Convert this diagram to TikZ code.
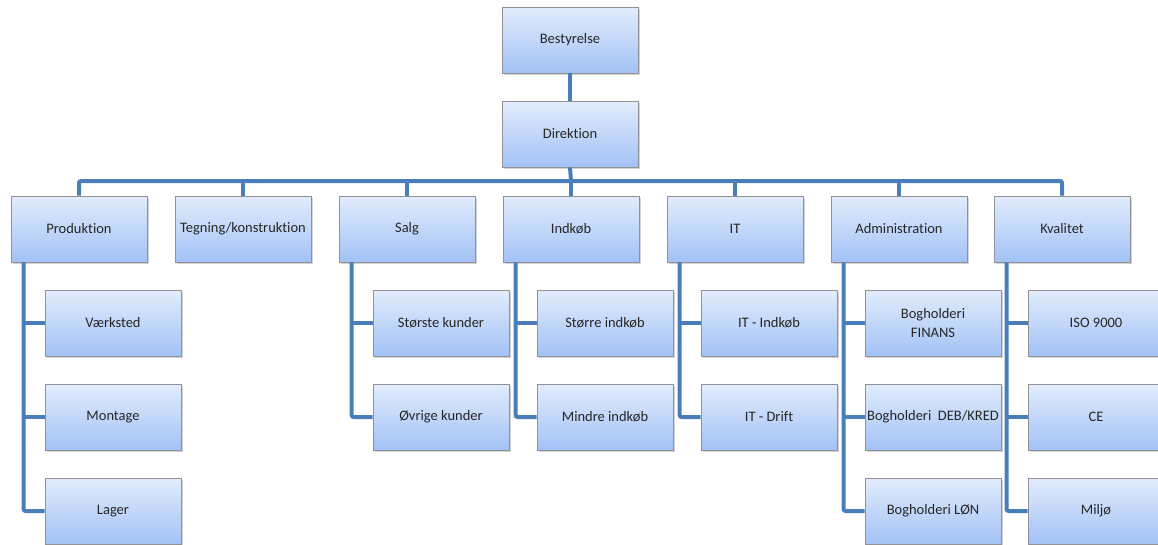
\documentclass[tikz,border=0pt]{standalone}
\usepackage{fontspec}
\setmainfont{Carlito}[Ligatures=NoCommon]
\usetikzlibrary{shadows}
\definecolor{linec}{RGB}{74,126,187}
\definecolor{boxtop}{RGB}{226,236,252}
\definecolor{boxbot}{RGB}{162,194,246}
\definecolor{boxedge}{RGB}{145,145,150}
\tikzset{
  orgbox/.style={draw=boxedge, line width=0.8pt, top color=boxtop, bottom color=boxbot,
    minimum width=136pt, minimum height=66pt, inner sep=2pt, align=center,
    font=\fontsize{14.5}{19}\selectfont, text=black!85,
    drop shadow={shadow xshift=1.5pt, shadow yshift=-1.5pt, opacity=0.35}},
  conn/.style={draw=linec, line width=4pt, rounded corners=2pt}
}
\begin{document}
\begin{tikzpicture}[x=1pt,y=-1pt]
\useasboundingbox (0,0) rectangle (1158,544);
\clip (0,0) rectangle (1158,544);
\coordinate (bus) at (571,181);
\node[orgbox] (best) at (570,40) {Bestyrelse};
\node[orgbox] (dir) at (570,134) {Direktion};
\node[orgbox] (prod) at (79,229) {Produktion};
\node[orgbox] (teg) at (243,229) {Tegning/konstruktion};
\node[orgbox] (salg) at (407,229) {Salg};
\node[orgbox] (indk) at (571,229) {Indkøb};
\node[orgbox] (it) at (735,229) {IT};
\node[orgbox] (adm) at (899,229) {Administration};
\node[orgbox] (kval) at (1062,229) {Kvalitet};
\node[orgbox] (vaerk) at (113,323) {Værksted};
\node[orgbox] (mont) at (113,417) {Montage};
\node[orgbox] (lager) at (113,511) {Lager};
\node[orgbox] (stk) at (441,323) {Største kunder};
\node[orgbox] (ovk) at (441,417) {Øvrige kunder};
\node[orgbox] (sti) at (605,323) {Større indkøb};
\node[orgbox] (mii) at (605,417) {Mindre indkøb};
\node[orgbox] (iti) at (769,323) {IT - Indkøb};
\node[orgbox] (itd) at (769,417) {IT - Drift};
\node[orgbox] (bfin) at (933,323) {Bogholderi\\FINANS};
\node[orgbox] (bdeb) at (933,417) {Bogholderi\ \ DEB/KRED};
\node[orgbox] (blon) at (933,511) {Bogholderi LØN};
\node[orgbox] (iso) at (1096,323) {ISO 9000};
\node[orgbox] (ce) at (1096,417) {CE};
\node[orgbox] (milj) at (1096,511) {Miljø};
\draw[conn] (best.south) -- (dir.north);
\draw[conn] (dir.south) -- (bus);
\draw[conn] (prod.north) |- (bus) -| (kval.north);
\draw[conn] (teg.north) -- (teg.north |- bus);
\draw[conn] (salg.north) -- (salg.north |- bus);
\draw[conn] (indk.north) -- (indk.north |- bus);
\draw[conn] (it.north) -- (it.north |- bus);
\draw[conn] (adm.north) -- (adm.north |- bus);
\draw[conn] ([xshift=13pt]prod.south west) |- (lager.west);
\draw[conn] ([xshift=13pt]prod.south west |- vaerk.west) -- (vaerk.west);
\draw[conn] ([xshift=13pt]prod.south west |- mont.west) -- (mont.west);
\draw[conn] ([xshift=13pt]salg.south west) |- (ovk.west);
\draw[conn] ([xshift=13pt]salg.south west |- stk.west) -- (stk.west);
\draw[conn] ([xshift=13pt]indk.south west) |- (mii.west);
\draw[conn] ([xshift=13pt]indk.south west |- sti.west) -- (sti.west);
\draw[conn] ([xshift=13pt]it.south west) |- (itd.west);
\draw[conn] ([xshift=13pt]it.south west |- iti.west) -- (iti.west);
\draw[conn] ([xshift=13pt]adm.south west) |- (blon.west);
\draw[conn] ([xshift=13pt]adm.south west |- bfin.west) -- (bfin.west);
\draw[conn] ([xshift=13pt]adm.south west |- bdeb.west) -- (bdeb.west);
\draw[conn] ([xshift=13pt]kval.south west) |- (milj.west);
\draw[conn] ([xshift=13pt]kval.south west |- iso.west) -- (iso.west);
\draw[conn] ([xshift=13pt]kval.south west |- ce.west) -- (ce.west);
\end{tikzpicture}
\end{document}
